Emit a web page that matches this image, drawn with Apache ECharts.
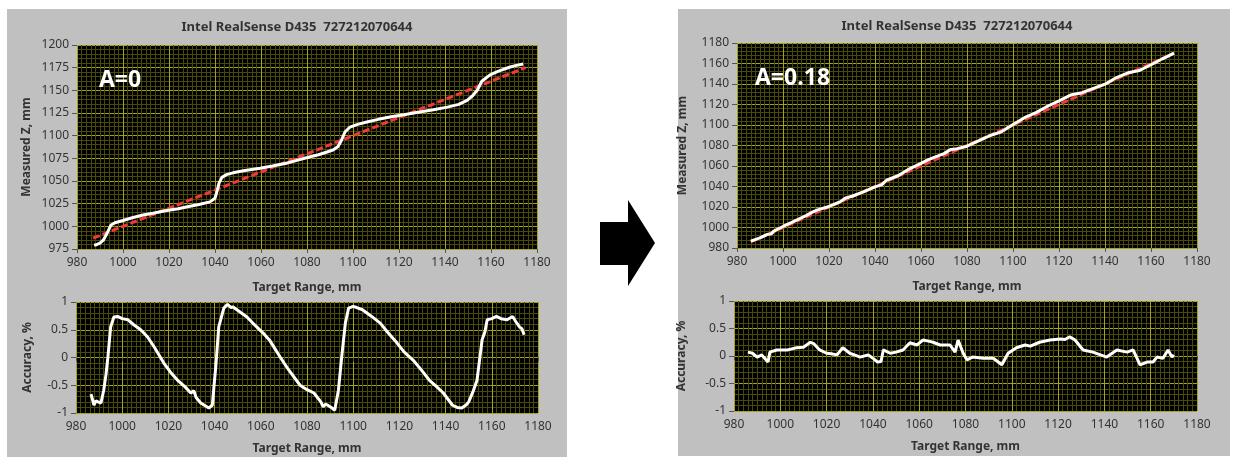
<!DOCTYPE html>
<html>
<head>
<meta charset="utf-8">
<script src="https://cdn.jsdelivr.net/npm/echarts@6/dist/echarts.min.js"></script>
<style>
  html, body { margin: 0; padding: 0; background: #fff; }
  #chart { width: 1235px; height: 460px; }
</style>
</head>
<body>
<div id="chart"></div>
<script>
// tick settings
const xTicks = { min: 980, max: 1180, interval: 20 };
const zTicksA0 = { min: 975, max: 1200, interval: 25 };
const zTicksA18 = { min: 980, max: 1180, interval: 20 };
const accTicks = { min: -1, max: 1, interval: 0.5 };

const titleText = 'Intel RealSense D435  727212070644';
const labelsA = ['A=0', 'A=0.18'];

// A=0 : measured Z vs target range (white) and ideal line (red)
const measuredA0 = [
  [987.4, 979.5], [988.5, 979.8], [990, 981.5], [991.5, 985], [993, 992], [994.8, 1001.5],
  [996.5, 1004], [1000, 1006.5], [1004, 1009.5], [1008.7, 1012.5], [1013, 1014.5],
  [1019, 1017.5], [1024, 1019.5], [1028, 1021.5], [1033, 1024], [1037.8, 1027],
  [1040, 1031], [1041, 1040], [1041.8, 1048], [1043, 1054], [1045, 1057], [1047.8, 1059],
  [1053, 1061.5], [1059.6, 1064], [1065, 1066.5], [1071, 1069.5], [1076, 1073],
  [1081, 1076.5], [1085, 1079], [1088.7, 1082], [1091.5, 1084.5], [1093.5, 1088],
  [1095, 1095], [1096.5, 1104], [1098.7, 1109.5], [1102, 1112.5], [1106, 1115],
  [1111, 1118], [1116, 1120.5], [1122, 1123], [1129, 1126], [1135, 1128.5],
  [1141, 1131.5], [1146, 1134.5], [1149.6, 1139], [1152, 1144], [1154, 1150],
  [1156, 1160], [1159.6, 1167], [1163, 1171], [1168, 1175.5], [1171, 1177.5], [1174, 1179]
];
const idealA0 = [[987, 987], [1175, 1175]];

// A=0 : accuracy, %
const accuracyA0 = [
  [986.5, -0.66], [987.8, -0.86], [988.6, -0.78], [989.5, -0.8], [990.8, -0.82],
  [992, -0.59], [993, -0.3], [993.8, 0.0], [995, 0.55], [996.4, 0.73], [998, 0.74],
  [1000, 0.7], [1002.5, 0.68], [1005, 0.59], [1008, 0.5], [1011, 0.37], [1014, 0.18],
  [1018, -0.1], [1021, -0.27], [1024, -0.41], [1027, -0.52], [1029.7, -0.64],
  [1031, -0.6], [1032, -0.72], [1034, -0.82], [1037.5, -0.91], [1039, -0.86],
  [1040.5, -0.17], [1041.8, 0.55], [1044, 0.89], [1045.6, 0.96], [1047, 0.9],
  [1048, 0.91], [1051, 0.82], [1054, 0.73], [1057, 0.6], [1061, 0.44], [1064, 0.3],
  [1068.5, 0.0], [1072, -0.22], [1077, -0.5], [1080, -0.58], [1083, -0.64],
  [1086, -0.8], [1087, -0.89], [1088, -0.84], [1089, -0.86], [1090.5, -0.9], [1092, -0.95],
  [1093.6, -0.59], [1095, 0.0], [1096.6, 0.62], [1098, 0.89], [1100, 0.92], [1101.5, 0.9],
  [1104, 0.86], [1108, 0.74], [1111.7, 0.62], [1115, 0.45], [1119, 0.26], [1122, 0.1],
  [1126, -0.05], [1130, -0.25], [1133, -0.41], [1136, -0.52], [1139, -0.64],
  [1143, -0.86], [1145, -0.9], [1147, -0.91], [1149, -0.85], [1150, -0.8],
  [1152, -0.6], [1153.6, -0.41], [1155.8, 0.32], [1157, 0.46], [1158, 0.68],
  [1160, 0.7], [1162, 0.74], [1164, 0.7], [1166.6, 0.68], [1169, 0.74], [1170.5, 0.64],
  [1172, 0.55], [1173, 0.52], [1174, 0.41]
];

// A=0.18 : measured Z vs target range (white) and ideal line (red)
const measuredA18 = [
  [986, 986.7], [990, 989.8], [993, 993.1], [995, 993.9], [996, 996.5], [1000, 1001],
  [1005, 1006.2], [1010, 1011.6], [1013, 1015.3], [1015, 1017.2], [1020, 1020.5],
  [1025, 1025.2], [1027, 1028.6], [1030, 1030.5], [1035, 1034.8], [1040, 1039.6],
  [1043, 1041.9], [1045, 1046.1], [1050, 1050.5], [1055, 1057.2], [1060, 1062.6],
  [1063, 1066], [1066, 1068.7], [1070, 1072.1], [1073, 1076.2], [1075, 1076.5],
  [1080, 1079.3], [1085, 1084.6], [1090, 1089.6], [1095, 1093.4], [1100, 1100.5],
  [1105, 1107.1], [1110, 1112.1], [1115, 1118.3], [1120, 1123.6], [1125, 1129.2],
  [1130, 1131.5], [1135, 1135.8], [1140, 1139.8], [1145, 1146.3], [1150, 1150.9],
  [1155, 1153.2], [1160, 1158.8], [1165, 1164.6], [1170, 1170.2]
];
const idealA18 = [[986, 986], [1170, 1170]];

// A=0.18 : accuracy, %
const accuracyA18 = [
  [986, 0.07], [988, 0.05], [990, -0.02], [992, 0.02], [994.7, -0.11], [995.5, 0.07],
  [998.5, 0.11], [1003, 0.11], [1005, 0.13], [1007, 0.15], [1010, 0.16], [1013, 0.25],
  [1014.6, 0.22], [1017, 0.11], [1020, 0.05], [1022, 0.04], [1024.5, 0.02], [1027, 0.15],
  [1030, 0.05], [1032, 0.02], [1034.5, -0.02], [1038, 0.02], [1040, -0.04], [1042, -0.11],
  [1043.5, -0.1], [1044.5, 0.11], [1047.5, 0.05], [1050, 0.07], [1053, 0.11],
  [1056, 0.24], [1059, 0.2], [1061.6, 0.29], [1064, 0.27], [1066, 0.25], [1069, 0.2],
  [1071, 0.2], [1073.3, 0.2], [1075.5, 0.07], [1076.8, 0.29], [1079, 0.05],
  [1080.6, -0.07], [1083, -0.02], [1087.6, -0.04], [1092, -0.04], [1095.7, -0.16],
  [1098.4, 0.05], [1102, 0.15], [1105.7, 0.2], [1108, 0.18], [1112, 0.25],
  [1116.5, 0.29], [1120.8, 0.31], [1123, 0.3], [1125, 0.35], [1127.3, 0.29],
  [1130.8, 0.11], [1135, 0.07], [1141, -0.02], [1145.4, 0.11], [1149.8, 0.07],
  [1152.4, 0.11], [1155.4, -0.16], [1158.4, -0.11], [1161, -0.11], [1162.7, -0.02],
  [1165.3, -0.04], [1167.5, 0.11], [1169.2, -0.02], [1170, 0.02]
];

const textColor = '#333';
const fontFamily = "'Noto Sans', 'DejaVu Sans', sans-serif";
const majorGrid = { color: '#a3a31c', width: 1 };
const minorGrid = { color: '#4a4a08', width: 1 };

function xAxisFor(gi, gap) {
  return {
    type: 'value', gridIndex: gi,
    min: xTicks.min, max: xTicks.max, interval: xTicks.interval,
    name: 'Target Range, mm', nameLocation: 'middle', nameGap: gap,
    nameTextStyle: { color: textColor, fontWeight: 'bold', fontSize: 12, fontFamily: fontFamily },
    axisLine: { show: false },
    axisTick: { show: true, length: 4, lineStyle: { color: '#555' } },
    axisLabel: { color: textColor, fontSize: 12, margin: 8, fontFamily: fontFamily,
      formatter: v => String(v) },
    splitLine: { show: true, lineStyle: majorGrid },
    minorTick: { show: false, splitNumber: 10 },
    minorSplitLine: { show: true, lineStyle: minorGrid }
  };
}

function yAxisFor(gi, ticks, name, minorSplit, gap) {
  return {
    type: 'value', gridIndex: gi,
    min: ticks.min, max: ticks.max, interval: ticks.interval,
    name: name, nameLocation: 'middle', nameGap: gap,
    nameTextStyle: { color: textColor, fontWeight: 'bold', fontSize: 12, fontFamily: fontFamily },
    axisLine: { show: false },
    axisTick: { show: true, length: 5, lineStyle: { color: '#555' } },
    axisLabel: { color: textColor, fontSize: 12, margin: 8, fontFamily: fontFamily,
      formatter: v => String(v) },
    splitLine: { show: true, lineStyle: majorGrid },
    minorTick: { show: false, splitNumber: minorSplit },
    minorSplitLine: { show: true, lineStyle: minorGrid }
  };
}

function whiteLine(gi, data) {
  return {
    type: 'line', xAxisIndex: gi, yAxisIndex: gi, data: data,
    showSymbol: false, silent: true, z: 5,
    lineStyle: { color: '#ffffff', width: 3 }
  };
}

function redLine(gi, data) {
  return {
    type: 'line', xAxisIndex: gi, yAxisIndex: gi, data: data,
    showSymbol: false, silent: true, z: 4,
    lineStyle: { color: '#f03a3a', width: 3, type: [7, 3] }
  };
}

const gridBox = { show: true, backgroundColor: '#000', borderWidth: 0 };

const chart = echarts.init(document.getElementById('chart'));
const option = {
  backgroundColor: '#ffffff',
  animation: false,
  grid: [
    Object.assign({ left: 77, top: 45, width: 460, height: 204 }, gridBox),
    Object.assign({ left: 76, top: 302, width: 462, height: 111 }, gridBox),
    Object.assign({ left: 737, top: 43, width: 460, height: 205 }, gridBox),
    Object.assign({ left: 734, top: 301, width: 463, height: 110 }, gridBox)
  ],
  xAxis: [xAxisFor(0, 33), xAxisFor(1, 30), xAxisFor(2, 33), xAxisFor(3, 30)],
  yAxis: [
    yAxisFor(0, zTicksA0, 'Measured Z, mm', 5, 44),
    yAxisFor(1, accTicks, 'Accuracy, %', 5, 42),
    yAxisFor(2, zTicksA18, 'Measured Z, mm', 5, 48),
    yAxisFor(3, accTicks, 'Accuracy, %', 5, 46)
  ],
  graphic: [
    { type: 'rect', z: -100, shape: { x: 7, y: 9, width: 560, height: 448 }, style: { fill: '#c0c0c0' } },
    { type: 'rect', z: -100, shape: { x: 678, y: 9, width: 552, height: 447 }, style: { fill: '#c0c0c0' } },
    { type: 'text', x: 297, y: 27, z: 50, style: { text: titleText, fill: textColor, font: "bold 13px 'Noto Sans', sans-serif", textAlign: 'center', textVerticalAlign: 'middle' } },
    { type: 'text', x: 957, y: 26, z: 50, style: { text: titleText, fill: textColor, font: "bold 13px 'Noto Sans', sans-serif", textAlign: 'center', textVerticalAlign: 'middle' } },
    { type: 'text', x: 99, y: 80, z: 100, style: { text: labelsA[0], fill: '#ffffff', font: "bold 23px 'Open Sans', sans-serif", textAlign: 'left', textVerticalAlign: 'middle' } },
    { type: 'text', x: 755, y: 78, z: 100, style: { text: labelsA[1], fill: '#ffffff', font: "bold 23px 'Open Sans', sans-serif", textAlign: 'left', textVerticalAlign: 'middle' } },
    { type: 'polygon', z: 10, shape: { points: [[600, 222], [628, 222], [628, 200], [655, 243], [628, 286], [628, 265], [600, 265]] }, style: { fill: '#000' } }
  ],
  series: [
    redLine(0, idealA0), whiteLine(0, measuredA0),
    whiteLine(1, accuracyA0),
    redLine(2, idealA18), whiteLine(2, measuredA18),
    whiteLine(3, accuracyA18)
  ]
};
chart.setOption(option);
</script>
</body>
</html>
